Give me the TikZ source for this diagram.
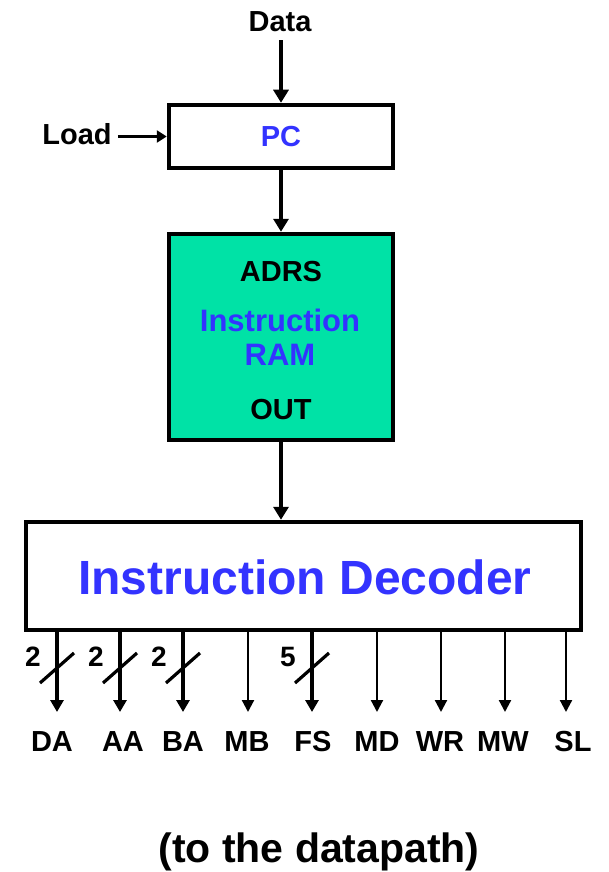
\documentclass[tikz,border=0pt]{standalone}
\usepackage{fontspec}
\setmainfont{Liberation Sans}
\usepackage{xcolor}
\usetikzlibrary{arrows.meta,positioning,calc}

\definecolor{ramgreen}{RGB}{0,226,166}
\definecolor{txtblue}{RGB}{51,51,255}

\begin{document}
\begin{tikzpicture}[
  x=1pt, y=-1pt,
  box/.style    = {draw, line width=4.5pt, fill=white, inner sep=0pt},
  lbl/.style    = {font=\fontsize{29}{31}\selectfont\bfseries, inner sep=0pt},
  blue/.style   = {lbl, text=txtblue},
  arrow/.style  = {-{Triangle[length=13pt,width=15pt]}, line width=4.5pt},
  thinarr/.style= {-{Triangle[length=10pt,width=12pt]}, line width=3pt},
  sig/.style    = {-{Triangle[length=12pt,width=12pt]}, line width=2.2pt},
  bus/.style    = {-{Triangle[length=12pt,width=13pt]}, line width=4.5pt},
  slash/.style  = {line width=3.2pt},
  num/.style    = {font=\fontsize{28}{30}\selectfont\bfseries, inner sep=0pt}
]
  \useasboundingbox (0,0) rectangle (608,872);

  % PC and instruction memory
  \node[box, minimum width=224pt, minimum height=63pt] (pc) at (281,136.5) {};
  \node[blue] (pclbl) at (pc) {PC};
  \node[lbl] (data) at (280,22) {Data};
  \node[lbl] (load) at (77,134) {Load};

  \node[box, fill=ramgreen, minimum width=224pt, minimum height=206pt] (ram) at (281,337) {};
  \node[lbl] (adrs) at (281,272) {ADRS};
  \node[blue, font=\fontsize{31}{33}\selectfont\bfseries, align=center]
    (ramlbl) at (280,337) {Instruction\\[1pt]RAM};
  \node[lbl] (out) at (281,410) {OUT};

  % decoder
  \node[box, minimum width=555pt, minimum height=108pt] (dec) at (303.5,576) {};
  \node[font=\fontsize{48}{50}\selectfont\bfseries, text=txtblue, inner sep=0pt]
    (declbl) at (305,577) {Instruction Decoder};

  \node[font=\fontsize{41}{43}\selectfont\bfseries, inner sep=0pt]
    (dp) at (319,852) {(to the datapath)};

  \draw[arrow] ([yshift=-8pt]pc.north |- data.south) -- (pc.north);
  \draw[thinarr] ([xshift=6pt]load.east |- pc.west) -- (pc.west);
  \draw[arrow] (pc.south) -- (ram.north);
  \draw[arrow] (ram.south) -- (ram.south |- dec.north);

  % control outputs
  \foreach \x/\lx/\n in {57/52/DA, 120/123/AA, 183/183/BA, 248/247/MB, 312/313/FS,
                         377/377/MD, 441/440/WR, 505/503/MW, 566/573/SL} {
    \coordinate (\n-end) at (\x,712);
    \node[lbl] (\n) at (\lx,742) {\n};
  }
  \foreach \n in {MB,MD,WR,MW,SL}
    \draw[sig] (dec.south -| \n-end) -- (\n-end);
  \foreach \n/\w in {DA/2,AA/2,BA/2,FS/5} {
    \draw[bus] (dec.south -| \n-end) -- (\n-end);
    \draw[slash] ($(\n-end)+(-17,-29)$) -- ($(\n-end)+(17,-59)$);
    \node[num] (\n-w) at ($(\n-end)+(-24,-55)$) {\w};
  }
\end{tikzpicture}
\end{document}
